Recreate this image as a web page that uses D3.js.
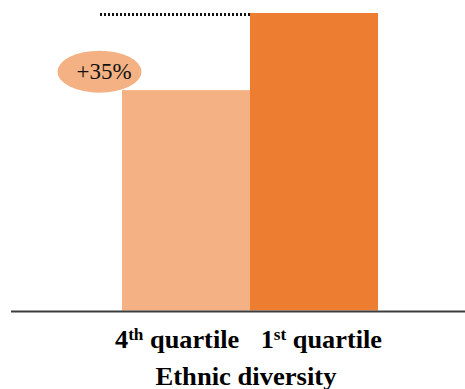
<!DOCTYPE html>
<html>
<head>
<meta charset="utf-8">
<script src="https://cdn.jsdelivr.net/npm/d3@7"></script>
<style>
  html, body { margin: 0; padding: 0; background: #fff; }
  svg { display: block; }
</style>
</head>
<body>
<svg id="chart" width="465" height="389"></svg>
<script>
// Relative performance by ethnic-diversity quartile
const categories = ["4", "1"];
const suffixes = ["th", "st"];
const values = [100, 135];
const colors = ["#F4B183", "#ED7D31"];
const deltaLabel = "+35%";
const axisTitle = "Ethnic diversity";

const serif = "Liberation Serif";

const svg = d3.select("#chart");

const x = d3.scaleBand()
  .domain(categories)
  .range([122, 378])
  .paddingInner(0)
  .paddingOuter(0);

const y = d3.scaleLinear()
  .domain([0, 135])
  .range([310.5, 13]);

// Bars
svg.selectAll("rect.bar")
  .data(values)
  .join("rect")
  .attr("class", "bar")
  .attr("x", (d, i) => x(categories[i]))
  .attr("width", x.bandwidth())
  .attr("y", d => y(d))
  .attr("height", d => y(0) - y(d))
  .attr("fill", (d, i) => colors[i]);

// Reference line at the taller bar's level
const topVal = d3.max(values);
svg.append("line")
  .attr("x1", 100)
  .attr("x2", x(categories[1]))
  .attr("y1", y(topVal) + 1.5)
  .attr("y2", y(topVal) + 1.5)
  .attr("stroke", "#111")
  .attr("stroke-width", 3)
  .attr("stroke-dasharray", "2,2")
  .attr("shape-rendering", "crispEdges");

// Baseline
svg.append("line")
  .attr("x1", 11)
  .attr("x2", 465)
  .attr("y1", y(0) + 1)
  .attr("y2", y(0) + 1)
  .attr("stroke", "#3c3c3c")
  .attr("stroke-width", 2);

// Difference badge
svg.append("ellipse")
  .attr("cx", 99.5)
  .attr("cy", 71.7)
  .attr("rx", 42)
  .attr("ry", 21)
  .attr("fill", "#F4B183");

svg.append("text")
  .attr("x", 104)
  .attr("y", 78.5)
  .attr("text-anchor", "middle")
  .attr("font-family", serif)
  .attr("font-size", 23)
  .attr("textLength", 55)
  .attr("lengthAdjust", "spacingAndGlyphs")
  .attr("fill", "#111")
  .text(deltaLabel);

// Category labels
const labelRow = svg.append("text")
  .attr("x", 248.5)
  .attr("y", 348)
  .attr("text-anchor", "middle")
  .attr("font-family", serif)
  .attr("font-size", 24.5)
  .attr("font-weight", "bold")
  .attr("textLength", 267)
  .attr("lengthAdjust", "spacingAndGlyphs")
  .attr("fill", "#000");

categories.forEach((c, i) => {
  labelRow.append("tspan")
    .attr("dx", i === 0 ? 0 : 20)
    .text(c);
  labelRow.append("tspan")
    .attr("font-size", 16)
    .attr("dy", -8.5)
    .text(suffixes[i]);
  labelRow.append("tspan")
    .attr("dy", 8.5)
    .text("\u00a0quartile");
});

svg.append("text")
  .attr("x", 246)
  .attr("y", 385)
  .attr("text-anchor", "middle")
  .attr("font-family", serif)
  .attr("font-size", 25)
  .attr("font-weight", "bold")
  .attr("textLength", 181)
  .attr("lengthAdjust", "spacingAndGlyphs")
  .attr("fill", "#000")
  .text(axisTitle);
</script>
</body>
</html>
